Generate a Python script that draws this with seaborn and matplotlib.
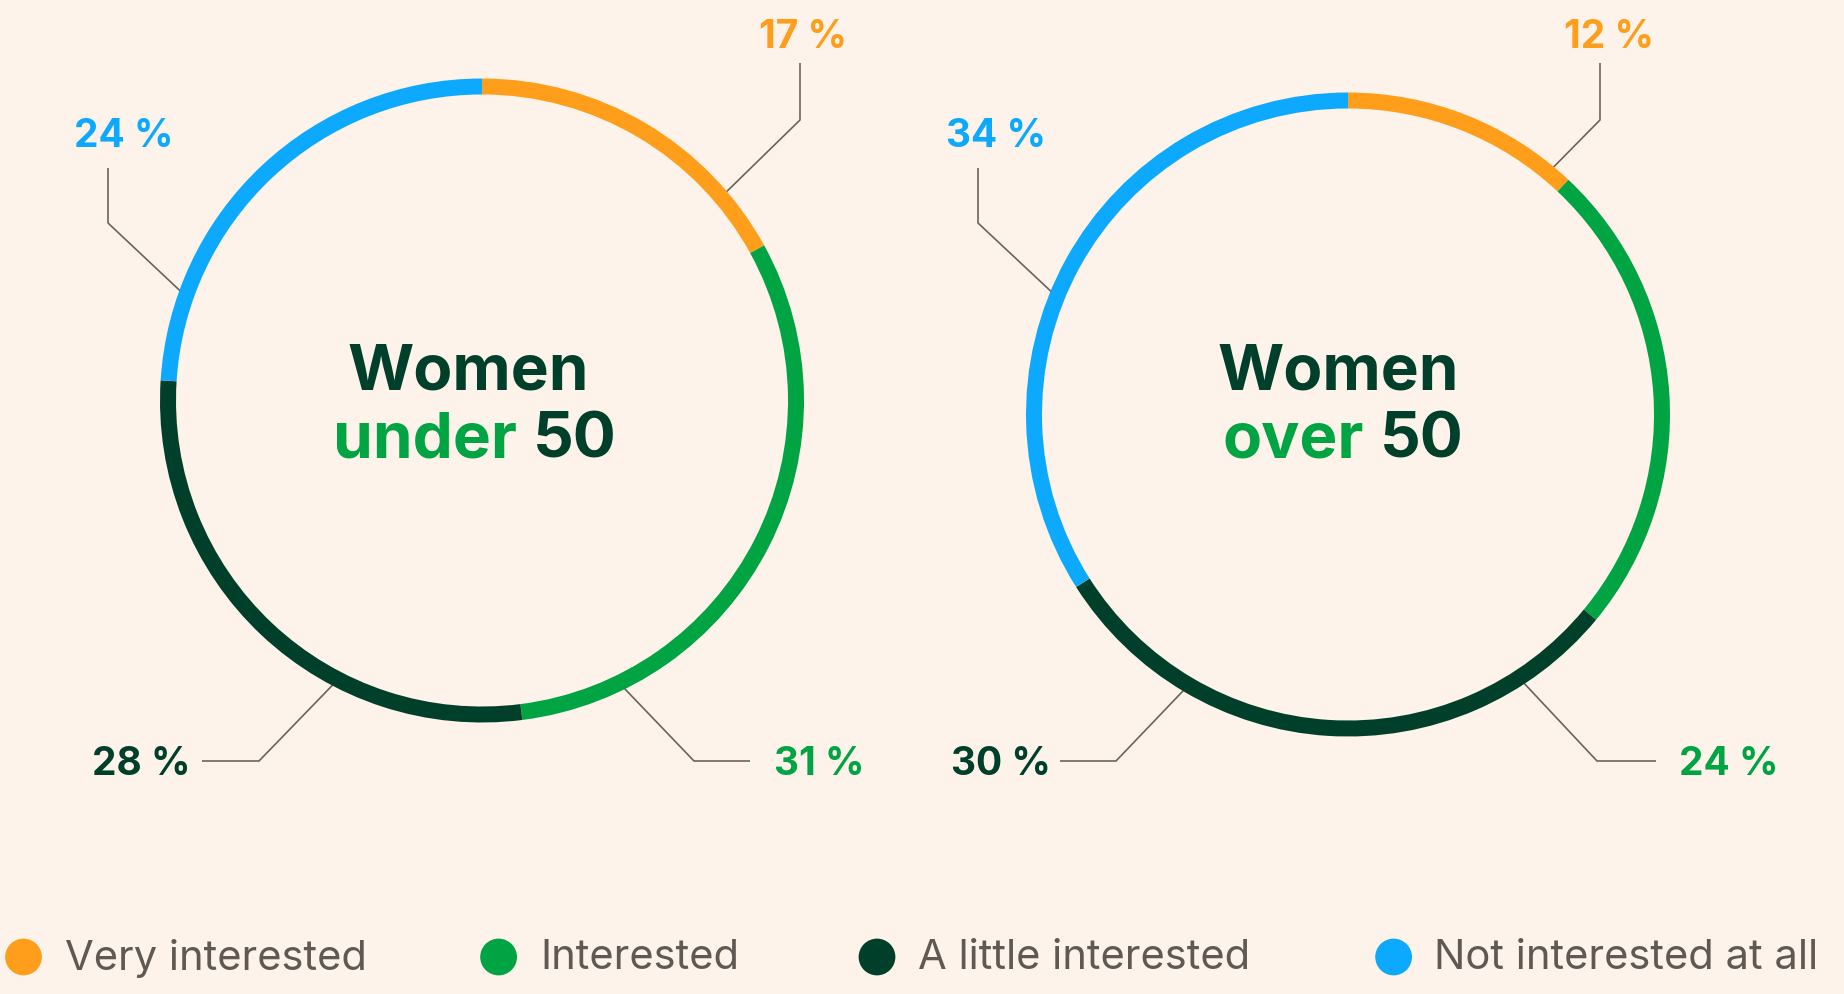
import numpy as np
import pandas as pd
import matplotlib
matplotlib.use("Agg")
import matplotlib.pyplot as plt
import seaborn as sns

# ---------------- data ----------------
categories = ["Very interested", "Interested", "A little interested", "Not interested at all"]
colors = ["#FF9E1B", "#00A443", "#00402A", "#0DA9FF"]
under50 = [17, 31, 28, 24]
over50 = [12, 24, 30, 34]
labels_under = ["17 %", "31 %", "28 %", "24 %"]
labels_over = ["12 %", "24 %", "30 %", "34 %"]

# ---------------- layout (pixel coords, y measured from top) ----------------
W, H = 1844, 994
BG = "#FDF3EB"
LINE = "#6B635D"
DARK = "#00402A"
GREEN = "#00A443"
R, RW = 322, 16

donuts = [
    dict(values=under50, labels=labels_under, center=(482, 400.5), word="under", split=(517, 533),
         title_x=468,
         # (angle clockwise from top, elbow, end, label baseline pos, ha)
         leaders=[(49.6, (800, 120), (800, 63), (803, 48), "center"),
                  (154.1, (694, 761), (750, 761), (774, 775), "left"),
                  (207.3, (259, 761), (202, 761), (190, 775), "right"),
                  (289.4, (108, 223), (108, 168), (124, 147), "center")]),
    dict(values=over50, labels=labels_over, center=(1348, 414.5), word="over", split=(1364, 1380),
         title_x=1338,
         leaders=[(39.6, (1600, 120), (1600, 63), (1609, 48), "center"),
                  (147.0, (1597, 761), (1656, 761), (1679, 775), "left"),
                  (210.5, (1116, 761), (1060, 761), (1051, 775), "right"),
                  (292.0, (978, 223), (978, 168), (996, 147), "center")]),
]

legend_dot_x = [23.5, 498.6, 877, 1393.6]
legend_txt_x = [65, 540, 918, 1434]
legend_y = 957

# ---------------- drawing ----------------
sns.set_theme(style="white")
plt.rcParams['font.family'] = ['Inter', 'DejaVu Sans']

fig = plt.figure(figsize=(W / 100, H / 100), dpi=100)
fig.patch.set_facecolor(BG)
ax = fig.add_axes([0, 0, 1, 1])
ax.set_facecolor(BG)

for d in donuts:
    cx, cy = d["center"]
    ax.pie(d["values"], colors=colors, startangle=90, counterclock=False,
           radius=R, center=(cx, H - cy),
           wedgeprops=dict(width=RW, linewidth=0))
    for (ang, elbow, end, lpos, ha), lab, col in zip(d["leaders"], d["labels"], colors):
        t = np.deg2rad(ang)
        rx = cx + (R - RW / 2) * np.sin(t)
        ry = cy - (R - RW / 2) * np.cos(t)
        ax.plot([rx, elbow[0], end[0]], [H - ry, H - elbow[1], H - end[1]],
                color=LINE, lw=1.2, zorder=0, solid_capstyle="butt")
        ax.text(lpos[0], H - lpos[1], lab, color=col, fontsize=28, fontweight="bold",
                ha=ha, va="baseline")
    # centre title
    ax.text(d["title_x"], H - 390, "Women", color=DARK, fontsize=46, fontweight="bold",
            ha="center", va="baseline")
    ax.text(d["split"][0], H - 458, d["word"], color=GREEN, fontsize=46, fontweight="bold",
            ha="right", va="baseline")
    ax.text(d["split"][1], H - 458, "50", color=DARK, fontsize=46, fontweight="bold",
            ha="left", va="baseline")

# legend
leg = pd.DataFrame({"x": legend_dot_x, "y": [H - legend_y] * 4, "cat": categories})
sns.scatterplot(data=leg, x="x", y="y", hue="cat", palette=colors, s=700,
                linewidth=0, legend=False, ax=ax, zorder=3)
for xt, c in zip(legend_txt_x, categories):
    ax.text(xt, H - legend_y - 1, c, color="#5F5853", fontsize=30, ha="left", va="center")

ax.set_xlim(0, W)
ax.set_ylim(0, H)
ax.set_aspect("equal")
ax.axis("off")

fig.savefig("out.png", dpi=100, facecolor=BG)
